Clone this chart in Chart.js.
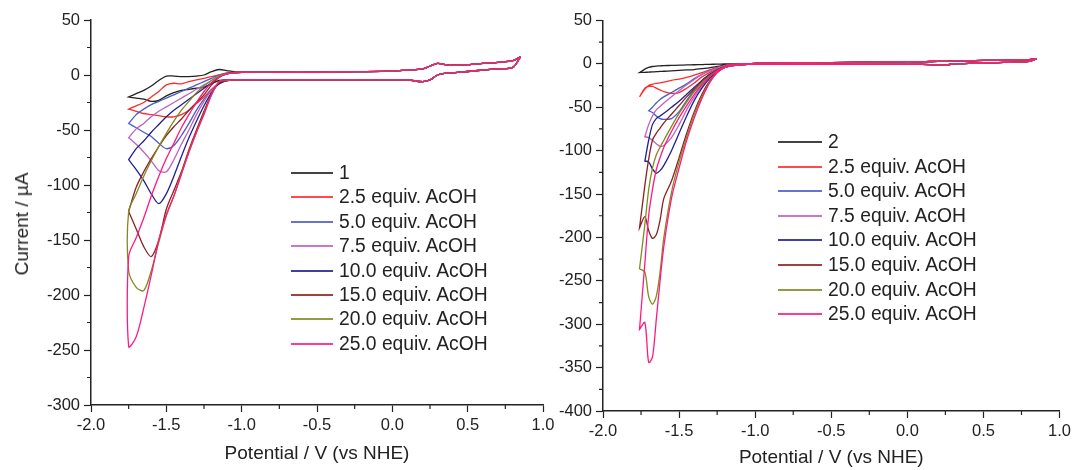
<!DOCTYPE html>
<html>
<head>
<meta charset="utf-8">
<script src="https://cdn.jsdelivr.net/npm/chart.js@4.4.1/dist/chart.umd.min.js"></script>
<style>
    body { margin: 0; background: #fff; width: 1075px; height: 470px; overflow: hidden; position: relative; }
    .panel { position: absolute; top: 0; height: 470px; width: 560px; }
    .legend { position: absolute; font-family: 'Liberation Sans', Arial, sans-serif; font-size: 19.3px; color: #222; }
    .legend .row { position: absolute; left: 0; display: flex; align-items: center; white-space: nowrap; height: 24px; }
    .legend .swatch { display: inline-block; height: 2px; margin-right: 6px; opacity: 0.85; }
    .ytitle { position: absolute; font-family: 'Liberation Sans', Arial, sans-serif; font-size: 19px; color: #222;
        white-space: nowrap; transform: translate(-50%, -50%) rotate(-90deg); }
</style>
</head>
<body>
<div class="panel" style="left:0px"><canvas id="leftChart"></canvas></div>
<div class="panel" style="left:515px"><canvas id="rightChart"></canvas></div>
<div class="ytitle" style="left:22px; top:224px;">Current / µA</div>
<div class="legend" id="leftLegend" style="left:291px; top:161px;"></div>
<div class="legend" id="rightLegend" style="left:778px; top:130px;"></div>

<script>
// potentials (V vs NHE), shared baseline part of the sweep (0.85 .. -1.0)
const BASE_E = [0.85, 0.8, 0.7, 0.6, 0.5, 0.4, 0.35, 0.3, 0.25, 0.2, 0.1, 0.0, -0.25, -0.5, -0.75, -1.0];
const LEFT_BASE_FWD = [16.5, 7, 5.7, 4.5, 3.2, 2, 1.5, 0, -4.5, -6, -4.5, -4.5, -4.5, -4.5, -4.5, -4.5];
const LEFT_BASE_REV = [16.5, 13, 11.5, 10.5, 9.5, 9, 9.5, 10.5, 8, 5.5, 4.5, 3.5, 3, 2.5, 2.5, 2.5];
const RIGHT_BASE_FWD = [6, 3, 2, 1.5, 1, 0.5, 0.3, 0, -1.5, -1, -0.5, -0.5, -0.5, -0.5, -0.5, -0.5];
const RIGHT_BASE_REV = [6, 5, 4.5, 4, 4, 3.5, 3.5, 3.5, 3, 3, 2.5, 2.5, 2, 1.5, 1, 0.5];

// active region potentials
const LEFT_E = [-1.05, -1.1, -1.15, -1.2, -1.25, -1.3, -1.35, -1.4, -1.45, -1.5, -1.55, -1.6, -1.65, -1.7, -1.75];
const RIGHT_E = [-1.05, -1.1, -1.15, -1.2, -1.25, -1.3, -1.35, -1.4, -1.45, -1.5, -1.55, -1.6, -1.625, -1.65, -1.675, -1.7, -1.725, -1.76];

const LEFT_LABELS = ['1', '2.5 equiv. AcOH', '5.0 equiv. AcOH', '7.5 equiv. AcOH', '10.0 equiv. AcOH', '15.0 equiv. AcOH', '20.0 equiv. AcOH', '25.0 equiv. AcOH'];
const RIGHT_LABELS = ['2', '2.5 equiv. AcOH', '5.0 equiv. AcOH', '7.5 equiv. AcOH', '10.0 equiv. AcOH', '15.0 equiv. AcOH', '20.0 equiv. AcOH', '25.0 equiv. AcOH'];
const COLORS = ['#222222', '#ff2a2a', '#4b5cc4', '#c060c0', '#1f1f90', '#8a2222', '#808a1e', '#ff1a80'];

// compound 1 (current in uA), forward = negative-going sweep, rev = return sweep
const L_1_FWD = [-4.5, -4.5, -5, -8, -11, -12, -13, -14, -16, -19, -23, -24, -22, -21, -20];
const L_1_REV = [3, 4, 5, 3, 0, -1, -1.5, -1.5, -1, -1, -5, -10, -14, -17, -20];
const L_25_FWD = [-4.5, -5, -7, -13, -20, -26, -32, -36, -38, -38, -37, -36, -35, -33, -31];
const L_25_REV = [2.5, 2, 0, -1.5, -3, -4.5, -6, -8, -7.5, -9, -15, -20, -25, -28, -31];
const L_50_FWD = [-4.5, -5, -8, -14, -22, -32, -44, -55, -64, -67, -62, -56, -52, -48, -44];
const L_50_REV = [2, 1.5, 0, -3, -6, -9, -12, -15, -18, -21, -24, -27, -31, -36, -44];
const L_75_FWD = [-4.5, -5, -8, -14, -24, -36, -50, -63, -77, -88, -87, -78, -70, -63, -57];
const L_75_REV = [2, 1, -1, -5, -9, -13, -17, -21, -25, -29, -33, -38, -44, -49, -57];
const L_100_FWD = [-4.5, -5, -8, -16, -28, -42, -57, -74, -92, -108, -117, -108, -96, -86, -77];
const L_100_REV = [2, 1, -2, -7, -12, -17, -22, -27, -32, -38, -45, -52, -60, -67, -77];
const L_150_FWD = [-4.5, -5, -7, -17, -33, -50, -68, -88, -105, -122, -150, -165, -156, -140, -124];
const L_150_REV = [2, 1, -2, -9, -18, -25, -32, -40, -47, -55, -65, -76, -88, -102, -124];
const L_200_FWD = [-4.5, -5, -6, -18, -35, -52, -70, -90, -110, -128, -152, -178, -196, -193, -178];
const L_200_REV = [2, 1, -1, -5, -10, -16, -24, -32, -42, -53, -65, -78, -92, -108, -124];
const L_250_FWD = [-4.5, -4.5, -6, -18, -36, -52, -70, -90, -110, -127, -150, -182, -212, -238, -247];
const L_250_REV = [2, 1, -2, -7, -15, -25, -36, -48, -62, -76, -92, -110, -130, -148, -165];

// compound 2
const R_2_FWD = [-0.5, -0.7, -1, -1.5, -3, -4.5, -5.5, -6.5, -7, -7.5, -8, -8.5, -8.7, -9, -9.2, -9.5, -9.7, -10];
const R_2_REV = [0.3, 0, 0, 0, -0.3, -0.5, -0.8, -1, -1.2, -1.5, -1.8, -2, -2.3, -2.5, -3, -4, -6, -10];
const R_25_FWD = [-0.5, -1, -1.5, -3, -6, -10, -15, -22, -28, -33, -34, -32, -30, -28, -26, -26, -28, -38];
const R_25_REV = [0.3, 0, -0.5, -2, -4, -7, -10, -13, -15.5, -17.5, -19, -21, -22, -22.5, -23.5, -25, -29, -38];
const R_50_FWD = [-0.5, -1, -2, -4, -8, -14, -22, -31, -42, -55, -63, -64, -63, -60, -56, -54, null, null];
const R_50_REV = [0.3, 0, -1, -2.5, -5, -8, -12, -17, -23, -28, -33, -38, -41, -45, -50, -54, null, null];
const R_75_FWD = [-0.5, -1, -2, -4, -9, -16, -26, -38, -53, -70, -85, -94, -95, -92, -88, -85, -84, null];
const R_75_REV = [0.3, 0, -1, -2, -5, -8, -12, -18, -24, -31, -38, -45, -49, -53, -60, -70, -84, null];
const R_100_FWD = [-0.5, -1, -2, -4, -9, -17, -28, -42, -60, -80, -100, -117, -123, -126, -121, -113, -112, null];
const R_100_REV = [0.3, 0, -1, -3, -7, -12, -19, -27, -35, -43, -50, -57, -60, -63, -70, -88, -112, null];
const R_150_FWD = [-0.5, -1, -2, -4, -10, -20, -35, -55, -80, -108, -135, -155, -180, -197, -201, -192, -176, -189];
const R_150_REV = [0.3, 0, -1, -3, -7, -13, -20, -29, -38, -48, -58, -68, -74, -80, -88, -110, -140, -189];
const R_200_FWD = [-0.5, -1, -2, -4, -10, -21, -38, -58, -84, -113, -148, -200, -240, -268, -277, -268, -240, -236];
const R_200_REV = [0.3, 0, -1, -3, -8, -14, -22, -32, -44, -57, -72, -88, -96, -105, -120, -145, -185, -236];
const R_250_FWD = [-0.5, -1, -2, -4, -10, -22, -40, -62, -88, -120, -155, -210, -250, -295, -338, -344, -298, -306];
const R_250_REV = [0.3, 0, -1, -3, -8, -15, -24, -35, -48, -62, -78, -96, -108, -122, -145, -175, -230, -306];

const LEFT_SERIES = [[L_1_FWD, L_1_REV], [L_25_FWD, L_25_REV], [L_50_FWD, L_50_REV], [L_75_FWD, L_75_REV],
    [L_100_FWD, L_100_REV], [L_150_FWD, L_150_REV], [L_200_FWD, L_200_REV], [L_250_FWD, L_250_REV]];
const RIGHT_SERIES = [[R_2_FWD, R_2_REV], [R_25_FWD, R_25_REV], [R_50_FWD, R_50_REV], [R_75_FWD, R_75_REV],
    [R_100_FWD, R_100_REV], [R_150_FWD, R_150_REV], [R_200_FWD, R_200_REV], [R_250_FWD, R_250_REV]];

Chart.defaults.font.family = "'Liberation Sans', Arial, sans-serif";
Chart.defaults.color = '#222';

// closed CV loop: baseline -> active (forward), active -> baseline (return)
function buildLoop(baseFwd, baseRev, actE, fwd, rev) {
    const pts = [];
    BASE_E.forEach((e, i) => pts.push({ x: e, y: baseFwd[i] }));
    actE.forEach((e, i) => { if (fwd[i] !== null) pts.push({ x: e, y: fwd[i] }); });
    for (let i = actE.length - 1; i >= 0; i--) {
        if (rev[i] !== null) pts.push({ x: actE[i], y: rev[i] });
    }
    for (let i = BASE_E.length - 1; i >= 0; i--) pts.push({ x: BASE_E[i], y: baseRev[i] });
    return pts;
}

// short minor ticks between the major ones
const minorTicks = {
    id: 'minorTicks',
    afterDraw(chart) {
        const { ctx } = chart;
        const xs = chart.scales.x, ys = chart.scales.y;
        ctx.save();
        ctx.strokeStyle = '#222';
        ctx.lineWidth = 1.2;
        ctx.beginPath();
        for (let v = xs.min + 0.25; v < xs.max; v += 0.5) {
            const px = xs.getPixelForValue(v);
            ctx.moveTo(px, xs.top);
            ctx.lineTo(px, xs.top + 4);
        }
        for (let v = ys.min + 25; v < ys.max; v += 50) {
            const py = ys.getPixelForValue(v);
            ctx.moveTo(ys.right - 4, py);
            ctx.lineTo(ys.right, py);
        }
        ctx.stroke();
        ctx.restore();
    }
};

function makeChart(canvasId, cfg) {
    const datasets = cfg.series.map((s, i) => ({
        label: cfg.labels[i],
        data: buildLoop(cfg.baseFwd, cfg.baseRev, cfg.actE, s[0], s[1]),
        borderColor: COLORS[i],
        borderWidth: 1.3,
        showLine: true,
        pointRadius: 0,
        tension: 0.3,
        fill: false,
        order: cfg.series.length - i
    }));

    return new Chart(document.getElementById(canvasId), {
        type: 'scatter',
        data: { datasets: datasets },
        plugins: [minorTicks],
        options: {
            responsive: true,
            maintainAspectRatio: false,
            animation: false,
            layout: { padding: cfg.padding },
            plugins: { legend: { display: false }, tooltip: { enabled: false } },
            scales: {
                x: {
                    type: 'linear',
                    min: -2, max: 1,
                    afterFit: s => { s.height = cfg.xHeight; },
                    ticks: { stepSize: 0.5, autoSkip: false, maxRotation: 0, padding: 4,
                        font: { size: 16.5 }, color: '#222', callback: v => v.toFixed(1) },
                    grid: { drawOnChartArea: false, drawTicks: true, tickLength: 7, tickColor: '#222', tickWidth: 1.2 },
                    border: { color: '#222', width: 1.5 },
                    title: { display: true, text: 'Potential / V (vs NHE)', font: { size: 19 }, color: '#222',
                        padding: { top: 0, bottom: cfg.xTitlePad } }
                },
                y: {
                    type: 'linear',
                    min: cfg.yMin, max: 50,
                    afterFit: s => { s.width = cfg.yWidth; },
                    ticks: { stepSize: 50, autoSkip: false, padding: 4, font: { size: 16.5 }, color: '#222' },
                    grid: { drawOnChartArea: false, drawTicks: true, tickLength: 7, tickColor: '#222', tickWidth: 1.2 },
                    border: { color: '#222', width: 1.5 }
                }
            }
        }
    });
}

function buildLegend(id, labels, swatchWidth, rowHeight) {
    const el = document.getElementById(id);
    el.innerHTML = labels.map((lab, i) => `
        <div class="row" style="top:${Math.round(i * rowHeight)}px;">
            <span class="swatch" style="width:${swatchWidth}px; background:${COLORS[i]};"></span>
            <span>${lab}</span>
        </div>`).join('');
}

makeChart('leftChart', {
    series: LEFT_SERIES, labels: LEFT_LABELS, actE: LEFT_E,
    baseFwd: LEFT_BASE_FWD, baseRev: LEFT_BASE_REV,
    yMin: -300, yWidth: 91, xHeight: 65, xTitlePad: 4.6,
    padding: { left: 0, top: 20, right: 17, bottom: 0 }
});

makeChart('rightChart', {
    series: RIGHT_SERIES, labels: RIGHT_LABELS, actE: RIGHT_E,
    baseFwd: RIGHT_BASE_FWD, baseRev: RIGHT_BASE_REV,
    yMin: -400, yWidth: 88, xHeight: 59, xTitlePad: 0.6,
    padding: { left: 0, top: 20.5, right: 13, bottom: 0 }
});

buildLegend('leftLegend', LEFT_LABELS, 42, 24.4);
buildLegend('rightLegend', RIGHT_LABELS, 44, 24.6);
</script>
</body>
</html>
